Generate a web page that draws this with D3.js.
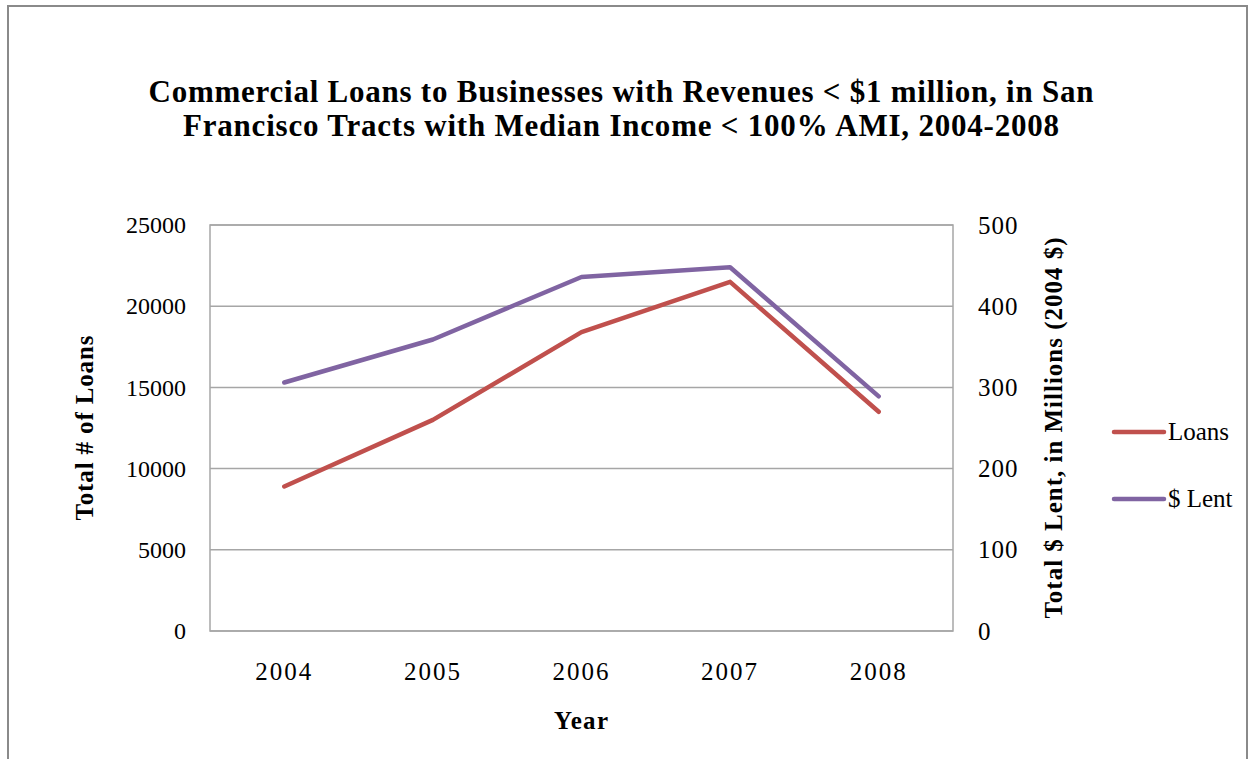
<!DOCTYPE html>
<html>
<head>
<meta charset="utf-8">
<script src="https://cdn.jsdelivr.net/npm/d3@7"></script>
<style>
  html, body { margin: 0; padding: 0; background: #fff; }
  svg { display: block; }
  text { font-family: "Liberation Serif", "Times New Roman", serif; fill: #000; }
</style>
</head>
<body>
<svg id="chart" width="1249" height="759"></svg>
<script>
// Data
const years = ["2004", "2005", "2006", "2007", "2008"];
const loans = [8900, 13000, 18400, 21500, 13500];   // total number of loans (left axis)
const lent = [306, 359, 436, 448, 289];             // $ lent, millions of 2004 $ (right axis)
const leftTicks = [0, 5000, 10000, 15000, 20000, 25000];
const rightTicks = [0, 100, 200, 300, 400, 500];
const seriesNames = ["Loans", "$ Lent"];
const seriesColors = ["#C0504D", "#8064A2"];
const titleLines = [
  "Commercial Loans to Businesses with Revenues < $1 million, in San",
  "Francisco Tracts with Median Income < 100% AMI, 2004-2008"
];
const titleWidths = [945, 876];

const svg = d3.select("#chart");

// Outer frame
svg.append("rect")
  .attr("x", 8).attr("y", 6).attr("width", 1239).attr("height", 800)
  .attr("fill", "none").attr("stroke", "#8a8a8a").attr("stroke-width", 2);

const plot = { left: 210, right: 953, top: 225, bottom: 631 };

const x = d3.scaleBand().domain(years).range([plot.left, plot.right]);
const yL = d3.scaleLinear().domain([0, 25000]).range([plot.bottom, plot.top]);
const yR = d3.scaleLinear().domain([0, 500]).range([plot.bottom, plot.top]);

// Title
svg.append("g").selectAll("text").data(titleLines).join("text")
  .attr("x", 621).attr("y", (d, i) => 102 + i * 34)
  .attr("text-anchor", "middle")
  .attr("textLength", (d, i) => titleWidths[i]).attr("lengthAdjust", "spacing")
  .style("font-weight", "bold").style("font-size", "31px")
  .text(d => d);

// Gridlines
svg.append("g").selectAll("line").data(leftTicks).join("line")
  .attr("x1", plot.left).attr("x2", plot.right)
  .attr("y1", d => yL(d)).attr("y2", d => yL(d))
  .attr("stroke", "#a6a6a6").attr("stroke-width", 1.5);

// Plot border
svg.append("rect")
  .attr("x", plot.left).attr("y", plot.top)
  .attr("width", plot.right - plot.left).attr("height", plot.bottom - plot.top)
  .attr("fill", "none").attr("stroke", "#a6a6a6").attr("stroke-width", 1.5);

// Left axis
const axL = svg.append("g").attr("transform", `translate(${plot.left},0)`)
  .call(d3.axisLeft(yL).tickValues(leftTicks).tickFormat(d3.format("d")).tickSize(0).tickPadding(24));
axL.select(".domain").remove();
axL.selectAll("text").style("font-size", "24px").style("font-family", null);

// Right axis
const axR = svg.append("g").attr("transform", `translate(${plot.right},0)`)
  .call(d3.axisRight(yR).tickValues(rightTicks).tickFormat(d3.format("d")).tickSize(0).tickPadding(25));
axR.select(".domain").remove();
axR.selectAll("text").style("font-size", "25px").style("font-family", null)
  .style("letter-spacing", "1px");

// Bottom axis
const axB = svg.append("g").attr("transform", `translate(0,${plot.bottom})`)
  .call(d3.axisBottom(x).tickSize(0).tickPadding(32));
axB.select(".domain").remove();
axB.selectAll("text").style("font-size", "25px").style("font-family", null)
  .style("letter-spacing", "2px")
  .attr("dy", null).attr("y", 49);

// Axis titles
svg.append("text")
  .attr("transform", "translate(93,428) rotate(-90)")
  .attr("text-anchor", "middle")
  .attr("textLength", 185).attr("lengthAdjust", "spacing")
  .style("font-weight", "bold").style("font-size", "25px")
  .text("Total # of Loans");
svg.append("text")
  .attr("transform", "translate(1062,428) rotate(-90)")
  .attr("text-anchor", "middle")
  .attr("textLength", 381).attr("lengthAdjust", "spacing")
  .style("font-weight", "bold").style("font-size", "25px")
  .text("Total $ Lent, in Millions (2004 $)");
svg.append("text")
  .attr("x", 581).attr("y", 729)
  .attr("text-anchor", "middle")
  .attr("textLength", 54).attr("lengthAdjust", "spacing")
  .style("font-weight", "bold").style("font-size", "25px")
  .text("Year");

// Series lines
const cx = d => x(d) + x.bandwidth() / 2;
const lineL = d3.line().x((d, i) => cx(years[i])).y(d => yL(d));
const lineR = d3.line().x((d, i) => cx(years[i])).y(d => yR(d));

svg.append("path").datum(loans)
  .attr("d", lineL).attr("fill", "none")
  .attr("stroke", seriesColors[0]).attr("stroke-width", 4.5)
  .attr("stroke-linejoin", "round").attr("stroke-linecap", "round");
svg.append("path").datum(lent)
  .attr("d", lineR).attr("fill", "none")
  .attr("stroke", seriesColors[1]).attr("stroke-width", 4.5)
  .attr("stroke-linejoin", "round").attr("stroke-linecap", "round");

// Legend
const legend = svg.append("g").selectAll("g").data(seriesNames).join("g")
  .attr("transform", (d, i) => `translate(0,${432 + i * 67})`);
legend.append("line")
  .attr("x1", 1114).attr("x2", 1164).attr("y1", 0).attr("y2", 0)
  .attr("stroke", (d, i) => seriesColors[i]).attr("stroke-width", 4.5)
  .attr("stroke-linecap", "round");
legend.append("text")
  .attr("x", 1168).attr("y", 8)
  .style("font-size", "25px")
  .text(d => d);
</script>
</body>
</html>
